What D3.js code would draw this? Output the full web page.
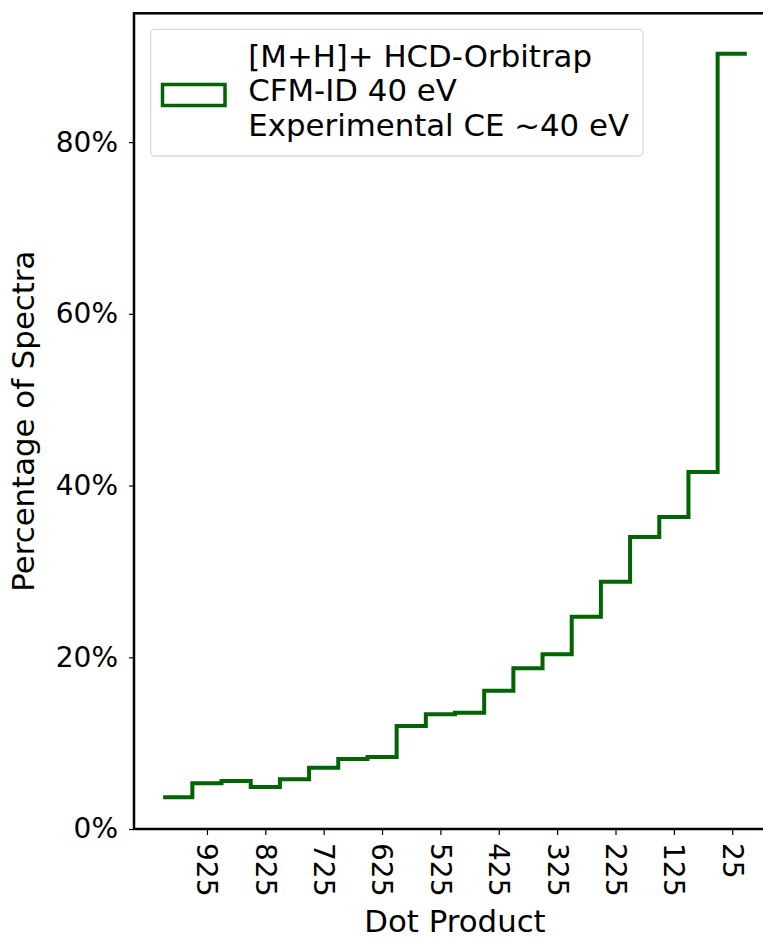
<!DOCTYPE html>
<html>
<head>
<meta charset="utf-8">
<script src="https://cdn.jsdelivr.net/npm/d3@7"></script>
<style>
  html, body { margin: 0; padding: 0; background: #fff; }
  text { font-family: "DejaVu Sans", sans-serif; fill: #000; }
</style>
</head>
<body>
<svg id="chart" width="763" height="939"></svg>
<script>
// Histogram bins of the dot product score (high to low) and share of spectra per bin
const binEdges = [1000, 950, 900, 850, 800, 750, 700, 650, 600, 550, 500,
                  450, 400, 350, 300, 250, 200, 150, 100, 50, 0];
const percentages = [3.69, 5.32, 5.59, 4.89, 5.79, 7.14, 8.15, 8.38, 11.99, 13.35,
                     13.53, 16.10, 18.71, 20.34, 24.71, 28.79, 34.02, 36.35, 41.59, 90.3];
const xTickValues = [925, 825, 725, 625, 525, 425, 325, 225, 125, 25];
const yTickValues = [0, 20, 40, 60, 80];
const legendLines = ["[M+H]+ HCD-Orbitrap", "CFM-ID 40 eV", "Experimental CE ~40 eV"];
const xLabel = "Dot Product";
const yLabel = "Percentage of Spectra";
const lineColor = "#006400";

const svg = d3.select("#chart");
const plot = { left: 134, right: 776, top: 13.3, bottom: 829 };
const tickFont = "28px";
const labelFont = "30.8px";

const x = d3.scaleLinear().domain([1050, -50]).range([plot.left, plot.right]);
const y = d3.scaleLinear().domain([0, 95]).range([plot.bottom, plot.top]);

// Step outline of the histogram
const stepPoints = percentages.map((v, i) => [binEdges[i], v]);
stepPoints.push([binEdges[binEdges.length - 1], percentages[percentages.length - 1]]);
const stepLine = d3.line()
  .x(d => x(d[0]))
  .y(d => y(d[1]))
  .curve(d3.curveStepAfter);

svg.append("path")
  .datum(stepPoints)
  .attr("d", stepLine)
  .attr("fill", "none")
  .attr("stroke", lineColor)
  .attr("stroke-width", 4)
  .attr("stroke-linejoin", "miter")
  .attr("stroke-linecap", "butt");

// X axis with vertical tick labels
const xAxis = svg.append("g")
  .attr("transform", `translate(0,${plot.bottom})`)
  .call(d3.axisBottom(x)
    .tickValues(xTickValues)
    .tickSize(6)
    .tickSizeOuter(0)
    .tickFormat(d3.format("d")));
xAxis.select(".domain").remove();
xAxis.selectAll(".tick line").attr("stroke", "#000").attr("stroke-width", 1.2);
xAxis.selectAll(".tick text")
  .attr("transform", "rotate(90)")
  .attr("x", 14)
  .attr("y", 0)
  .attr("dy", "0.36em")
  .attr("text-anchor", "start")
  .style("font-size", tickFont);

// Y axis with percent labels
const yAxis = svg.append("g")
  .attr("transform", `translate(${plot.left},0)`)
  .call(d3.axisLeft(y)
    .tickValues(yTickValues)
    .tickSize(5)
    .tickSizeOuter(0)
    .tickPadding(11)
    .tickFormat(d => d + "%"));
yAxis.select(".domain").remove();
yAxis.selectAll(".tick line").attr("stroke", "#000").attr("stroke-width", 1.2);
yAxis.selectAll(".tick text").style("font-size", tickFont);

// Axes frame
svg.append("rect")
  .attr("x", plot.left)
  .attr("y", plot.top)
  .attr("width", plot.right - plot.left)
  .attr("height", plot.bottom - plot.top)
  .attr("fill", "none")
  .attr("stroke", "#000")
  .attr("stroke-width", 2.5);

// Axis titles
svg.append("text")
  .attr("x", (plot.left + plot.right) / 2)
  .attr("y", 932)
  .attr("text-anchor", "middle")
  .style("font-size", labelFont)
  .text(xLabel);

svg.append("text")
  .attr("transform", `translate(34,${(plot.top + plot.bottom) / 2}) rotate(-90)`)
  .attr("text-anchor", "middle")
  .style("font-size", labelFont)
  .text(yLabel);

// Legend
const legend = svg.append("g");
legend.append("rect")
  .attr("x", 150.7)
  .attr("y", 29.3)
  .attr("width", 492.3)
  .attr("height", 126.7)
  .attr("rx", 4)
  .attr("fill", "#fff")
  .attr("fill-opacity", 0.8)
  .attr("stroke", "#d9d9d9")
  .attr("stroke-width", 1.3);
legend.append("rect")
  .attr("x", 162.5)
  .attr("y", 84.5)
  .attr("width", 62.5)
  .attr("height", 21)
  .attr("fill", "none")
  .attr("stroke", lineColor)
  .attr("stroke-width", 3.5);
const baselines = [66.7, 100.5, 136.3];
legend.selectAll("text.entry")
  .data(legendLines)
  .join("text")
  .attr("class", "entry")
  .attr("x", 248.3)
  .attr("y", (d, i) => baselines[i])
  .style("font-size", labelFont)
  .text(d => d);
</script>
</body>
</html>
